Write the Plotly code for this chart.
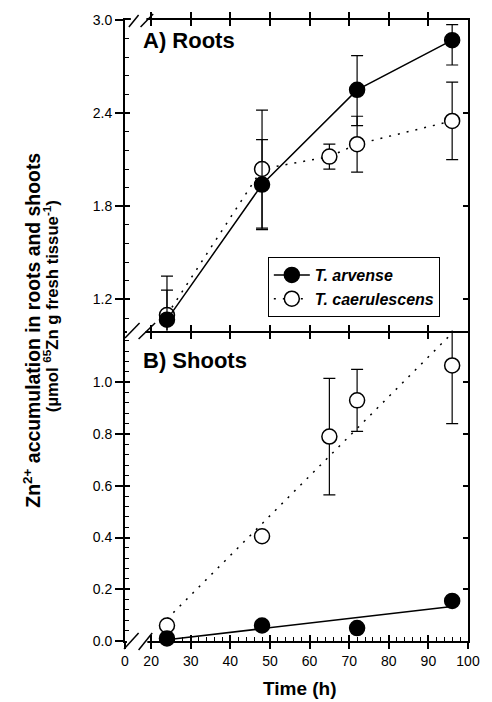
import plotly.graph_objects as go

# ---------------- data ----------------
times_arv = [24, 48, 72, 96]
times_cae = [24, 48, 65, 72, 96]

roots_arv = [1.07, 1.94, 2.55, 2.87]
roots_arv_err_plus = [0.19, 0.29, 0.22, 0.10]
roots_arv_err_minus = [0.19, 0.29, 0.23, 0.16]
roots_cae = [1.10, 2.04, 2.12, 2.20, 2.35]
roots_cae_err = [0.25, 0.38, 0.08, 0.18, 0.25]

shoots_arv = [0.01, 0.06, 0.05, 0.155]
shoots_cae = [0.06, 0.405, 0.79, 0.93, 1.065]
shoots_cae_err = [0.0, 0.0, 0.225, 0.12, 0.225]

fit_times = [24, 96]
shoots_arv_fit = [0.005, 0.133]
shoots_cae_fit = [0.085, 1.19]

x_major = [20, 30, 40, 50, 60, 70, 80, 90, 100]
x_break_val = 13.4
x_labels = ["0", "20", "30", "40", "50", "60", "70", "80", "90", "100"]
x_minor = [v for v in range(22, 100, 2) if v % 10 != 0]

roots_ticks = [1.2, 1.8, 2.4, 3.0]
roots_labels = ["1.2", "1.8", "2.4", "3.0"]
roots_minor = [1.08, 1.32, 1.44, 1.56, 1.68, 1.92, 2.04, 2.16, 2.28, 2.52, 2.64, 2.76, 2.88]
shoots_ticks = [0.0, 0.2, 0.4, 0.6, 0.8, 1.0]
shoots_labels = ["0.0", "0.2", "0.4", "0.6", "0.8", "1.0"]
shoots_minor = [0.04, 0.08, 0.12, 0.16, 0.24, 0.28, 0.32, 0.36, 0.44, 0.48, 0.52, 0.56,
                0.64, 0.68, 0.72, 0.76, 0.84, 0.88, 0.92, 0.96, 1.04, 1.08, 1.12, 1.16]

name_arv = "T. arvense"
name_cae = "T. caerulescens"

# ---------------- layout geometry ----------------
W, H = 492, 702
L, R, T, Bm = 125, 14, 20, 61
PW = W - L - R
PH = H - T - Bm
BOT = H - Bm


def sx(p):
    return (p - L) / PW


def sy(p):
    return (BOT - p) / PH


FONT = "Liberation Sans, Arial, sans-serif"
BLACK = "black"

fig = go.Figure()

err_style = dict(color=BLACK, thickness=1.2, width=6)

# ---- Roots panel ----
fig.add_trace(go.Scatter(
    x=times_cae, y=roots_cae, mode="lines+markers", name=name_cae, legendrank=2,
    line=dict(color=BLACK, width=1.5, dash="2px,7px"),
    marker=dict(size=15, color="white", line=dict(color=BLACK, width=1.5)),
    error_y=dict(type="data", array=roots_cae_err, **err_style),
    xaxis="x", yaxis="y", cliponaxis=True))
fig.add_trace(go.Scatter(
    x=times_arv, y=roots_arv, mode="lines+markers", name=name_arv, legendrank=1,
    line=dict(color=BLACK, width=1.5),
    marker=dict(size=15, color=BLACK, line=dict(color=BLACK, width=1.5)),
    error_y=dict(type="data", array=roots_arv_err_plus, arrayminus=roots_arv_err_minus,
                 symmetric=False, **err_style),
    xaxis="x", yaxis="y", cliponaxis=True))

# ---- Shoots panel ----
fig.add_trace(go.Scatter(
    x=fit_times, y=shoots_cae_fit, mode="lines", showlegend=False,
    line=dict(color=BLACK, width=1.5, dash="2px,7px"), xaxis="x2", yaxis="y2"))
fig.add_trace(go.Scatter(
    x=fit_times, y=shoots_arv_fit, mode="lines", showlegend=False,
    line=dict(color=BLACK, width=1.5), xaxis="x2", yaxis="y2"))
fig.add_trace(go.Scatter(
    x=times_cae, y=shoots_cae, mode="markers", showlegend=False,
    marker=dict(size=15, color="white", line=dict(color=BLACK, width=1.5)),
    error_y=dict(type="data", array=shoots_cae_err, **err_style),
    xaxis="x2", yaxis="y2", cliponaxis=True))
fig.add_trace(go.Scatter(
    x=times_arv, y=shoots_arv, mode="markers", showlegend=False,
    marker=dict(size=15, color=BLACK, line=dict(color=BLACK, width=1.5)),
    xaxis="x2", yaxis="y2", cliponaxis=False))

# dummy traces registering overlay axes
fig.add_trace(go.Scatter(x=[None], y=[None], xaxis="x", yaxis="y3", showlegend=False, hoverinfo="skip"))
fig.add_trace(go.Scatter(x=[None], y=[None], xaxis="x2", yaxis="y4", showlegend=False, hoverinfo="skip"))
fig.add_trace(go.Scatter(x=[None], y=[None], xaxis="x3", yaxis="y2", showlegend=False, hoverinfo="skip"))

xr = [x_break_val, 100]
tickfont = dict(family=FONT, size=14, color=BLACK)
common = dict(showgrid=False, zeroline=False, linecolor=BLACK, tickcolor=BLACK)

fig.update_layout(
    width=W, height=H,
    margin=dict(l=L, r=R, t=T, b=Bm, pad=0),
    paper_bgcolor="white", plot_bgcolor="white",
    font=dict(family=FONT, color=BLACK),
    showlegend=True,
    xaxis=dict(domain=[0, 1], anchor="y", range=xr, tickmode="array", tickvals=x_major,
               ticks="inside", ticklen=6, tickwidth=1.5, showticklabels=False,
               showline=True, linewidth=2, mirror="allticks", **common),
    xaxis2=dict(domain=[0, 1], anchor="y2", range=xr, tickmode="array",
                tickvals=[x_break_val] + x_major, ticktext=x_labels, tickfont=tickfont,
                ticks="outside", ticklen=6, tickwidth=1.5,
                showline=True, linewidth=2, mirror=False,
                minor=dict(tickmode="array", tickvals=x_minor, ticks="inside", ticklen=4,
                           tickwidth=1, tickcolor=BLACK),
                **common),
    xaxis3=dict(overlaying="x2", anchor="y2", range=xr, tickmode="array", tickvals=x_major,
                ticks="inside", ticklen=6, tickwidth=1.5, showticklabels=False,
                showline=False, mirror="ticks", **common),
    yaxis=dict(domain=[0.5, 1], anchor="x", range=[1.0, 3.0], tickmode="array",
               tickvals=roots_ticks, ticktext=roots_labels, tickfont=tickfont,
               ticks="outside", ticklen=8, tickwidth=1.5,
               showline=True, linewidth=2, mirror=True,
               minor=dict(tickmode="array", tickvals=roots_minor, ticks="inside", ticklen=4,
                          tickwidth=1, tickcolor=BLACK),
               **common),
    yaxis3=dict(overlaying="y", anchor="x", range=[1.0, 3.0], tickmode="array",
                tickvals=roots_ticks, ticks="inside", ticklen=5, tickwidth=1.5,
                showticklabels=False, showline=False, mirror="ticks", **common),
    yaxis2=dict(domain=[0, 0.5], anchor="x2", range=[0.0, 1.2], tickmode="array",
                tickvals=shoots_ticks, ticktext=shoots_labels, tickfont=tickfont,
                ticks="outside", ticklen=8, tickwidth=1.5,
                showline=True, linewidth=2, mirror=True,
                minor=dict(tickmode="array", tickvals=shoots_minor, ticks="inside", ticklen=4,
                           tickwidth=1, tickcolor=BLACK),
                **common),
    yaxis4=dict(overlaying="y2", anchor="x2", range=[0.0, 1.2], tickmode="array",
                tickvals=shoots_ticks, ticks="inside", ticklen=5, tickwidth=1.5,
                showticklabels=False, showline=False, mirror="ticks", **common),
    legend=dict(x=sx(272), y=sy(257), xanchor="left", yanchor="top",
                bgcolor="white", bordercolor=BLACK, borderwidth=1,
                font=dict(family=FONT, size=16, color=BLACK, weight="bold", style="italic"),
                itemwidth=36, tracegroupgap=0),
)

# ---- axis break marks ----
shapes = []
for (x0, y0, x1, y1) in [(131, 16, 147, 24), (127, 326, 146, 335), (127, 637, 148, 645)]:
    shapes.append(dict(type="rect", xref="paper", yref="paper",
                       x0=sx(x0), x1=sx(x1), y0=sy(y1), y1=sy(y0),
                       fillcolor="white", line=dict(width=0), layer="above"))
for (x0, y0, x1, y1) in [(129, 27, 139, 15), (141, 27, 154, 14),
                         (125, 338, 140, 323), (139, 339, 156, 323),
                         (124, 649, 139, 633), (139, 650, 153, 633)]:
    shapes.append(dict(type="line", xref="paper", yref="paper",
                       x0=sx(x0), y0=sy(y0), x1=sx(x1), y1=sy(y1),
                       line=dict(color=BLACK, width=1.5), layer="above"))
fig.update_layout(shapes=shapes)

# ---- text annotations ----
ann = [
    dict(text="A) Roots", x=sx(141), y=sy(40), xanchor="left", yanchor="middle",
         font=dict(family=FONT, size=22, color=BLACK, weight="bold")),
    dict(text="B) Shoots", x=sx(141), y=sy(360), xanchor="left", yanchor="middle",
         font=dict(family=FONT, size=22, color=BLACK, weight="bold")),
    dict(text="Zn<sup>2+</sup> accumulation in roots and shoots", x=sx(29), y=sy(330),
         xanchor="center", yanchor="middle", textangle=-90,
         font=dict(family=FONT, size=19.4, color=BLACK, weight="bold")),
    dict(text="(µmol <sup>65</sup>Zn g fresh tissue<sup>-1</sup>)", x=sx(49), y=sy(306),
         xanchor="center", yanchor="middle", textangle=-90,
         font=dict(family=FONT, size=16.7, color=BLACK, weight="bold")),
    dict(text="Time (h)", x=sx(305.5), y=sy(689), xanchor="center", yanchor="middle",
         font=dict(family=FONT, size=19, color=BLACK, weight="bold")),
]
for a in ann:
    a.update(xref="paper", yref="paper", showarrow=False)
fig.update_layout(annotations=ann)

fig.write_html("out.html")
